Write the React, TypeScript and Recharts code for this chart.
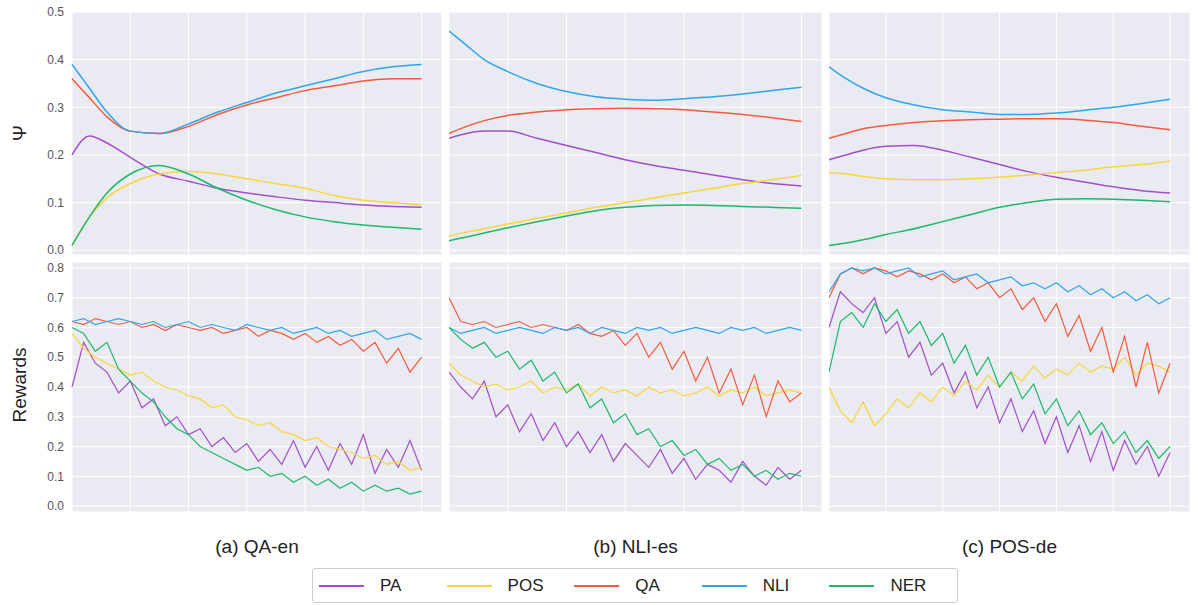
import { LineChart, Line, XAxis, YAxis, CartesianGrid } from 'recharts';

const COLORS: Record<string, string> = {
  PA: '#A24FC9',
  POS: '#F7D63C',
  QA: '#F55A3C',
  NLI: '#2FA6EA',
  NER: '#1DB86B',
};
const SERIES = ['PA', 'POS', 'QA', 'NLI', 'NER'];
const X_TICKS = [0, 1, 2, 3, 4, 5, 6];
const TOP_TICKS = [0, 0.1, 0.2, 0.3, 0.4, 0.5];
const BOTTOM_TICKS = [0, 0.1, 0.2, 0.3, 0.4, 0.5, 0.6, 0.7, 0.8];
const PANEL_LABELS = ['(a) QA-en', '(b) NLI-es', '(c) POS-de'];

const topX = [0, 0.3, 0.6, 1, 1.5, 2, 2.5, 3, 3.5, 4, 4.5, 5, 5.5, 6];

const topA = {
  PA: [0.2, 0.24, 0.225, 0.195, 0.16, 0.145, 0.13, 0.12, 0.112, 0.105, 0.1, 0.095, 0.092, 0.09],
  POS: [0.01, 0.07, 0.11, 0.14, 0.16, 0.165, 0.16, 0.15, 0.14, 0.13, 0.115, 0.105, 0.1, 0.095],
  QA: [0.36, 0.32, 0.28, 0.25, 0.245, 0.26, 0.285, 0.305, 0.32, 0.335, 0.345, 0.355, 0.36, 0.36],
  NLI: [0.39, 0.34, 0.29, 0.25, 0.245, 0.265, 0.29, 0.31, 0.33, 0.345, 0.36, 0.375, 0.385, 0.39],
  NER: [0.01, 0.07, 0.12, 0.16, 0.178, 0.16, 0.13, 0.105, 0.085, 0.07, 0.06, 0.053, 0.048, 0.044],
};
const topB = {
  PA: [0.235, 0.245, 0.25, 0.25, 0.235, 0.22, 0.205, 0.19, 0.178, 0.168, 0.158, 0.148, 0.14, 0.135],
  POS: [0.03, 0.038, 0.045, 0.055, 0.067, 0.078, 0.09, 0.1, 0.11, 0.12, 0.13, 0.14, 0.148, 0.157],
  QA: [0.245, 0.26, 0.272, 0.283, 0.29, 0.295, 0.297, 0.298, 0.297, 0.295, 0.29, 0.285, 0.278, 0.27],
  NLI: [0.46, 0.43, 0.4, 0.375, 0.35, 0.333, 0.322, 0.317, 0.315, 0.318, 0.322, 0.328, 0.335, 0.342],
  NER: [0.02, 0.028, 0.036, 0.047, 0.06, 0.072, 0.083, 0.09, 0.094, 0.095, 0.094, 0.092, 0.09, 0.088],
};
const topC = {
  PA: [0.19, 0.2, 0.21, 0.218, 0.22, 0.21, 0.195, 0.18, 0.165, 0.153, 0.143, 0.133, 0.125, 0.12],
  POS: [0.163, 0.16, 0.155, 0.15, 0.148, 0.148, 0.15, 0.153, 0.158, 0.163, 0.168, 0.175, 0.18, 0.187],
  QA: [0.235, 0.245, 0.255, 0.262, 0.268, 0.272, 0.274, 0.275, 0.276, 0.276, 0.273, 0.268, 0.26, 0.253],
  NLI: [0.385, 0.36, 0.34, 0.32, 0.305, 0.295, 0.29, 0.285, 0.285, 0.288, 0.294, 0.3, 0.308, 0.317],
  NER: [0.01, 0.015, 0.022, 0.033, 0.045, 0.06, 0.075, 0.09, 0.1, 0.107, 0.108, 0.107, 0.105, 0.102],
};

const bottomX = [0, 0.2, 0.4, 0.6, 0.8, 1, 1.2, 1.4, 1.6, 1.8, 2, 2.2, 2.4, 2.6, 2.8, 3, 3.2, 3.4, 3.6, 3.8, 4, 4.2, 4.4, 4.6, 4.8, 5, 5.2, 5.4, 5.6, 5.8, 6];

const bottomA = {
  PA: [0.4, 0.55, 0.48, 0.45, 0.38, 0.42, 0.33, 0.36, 0.27, 0.3, 0.24, 0.26, 0.2, 0.23, 0.18, 0.21, 0.15, 0.19, 0.14, 0.22, 0.13, 0.2, 0.12, 0.21, 0.14, 0.24, 0.11, 0.19, 0.13, 0.22, 0.12],
  POS: [0.58, 0.53, 0.5, 0.48, 0.46, 0.44, 0.45, 0.42, 0.4, 0.39, 0.37, 0.36, 0.33, 0.34, 0.3, 0.29, 0.27, 0.28, 0.25, 0.24, 0.22, 0.23, 0.2, 0.19, 0.18, 0.16, 0.17, 0.14, 0.15, 0.12, 0.13],
  QA: [0.62, 0.61, 0.63, 0.62, 0.61, 0.62, 0.6, 0.61, 0.59, 0.61, 0.6, 0.59, 0.6, 0.58, 0.59, 0.6, 0.57, 0.59, 0.58, 0.56, 0.58, 0.55, 0.57, 0.54, 0.56, 0.52, 0.55, 0.48, 0.53, 0.45, 0.5],
  NLI: [0.62, 0.63, 0.61, 0.62, 0.63, 0.62, 0.61, 0.62, 0.6, 0.61, 0.62, 0.6, 0.61, 0.6, 0.59, 0.61, 0.6, 0.59, 0.6, 0.58, 0.59, 0.6, 0.58, 0.59, 0.57, 0.58, 0.59, 0.56, 0.57, 0.58, 0.56],
  NER: [0.6, 0.58, 0.52, 0.55, 0.46, 0.42, 0.38, 0.35, 0.3, 0.26, 0.24, 0.2, 0.18, 0.16, 0.14, 0.12, 0.13, 0.1, 0.11, 0.08, 0.1, 0.07, 0.09, 0.06, 0.08, 0.05, 0.07, 0.05, 0.06, 0.04, 0.05],
};
const bottomB = {
  PA: [0.45, 0.4, 0.36, 0.42, 0.3, 0.34, 0.25, 0.31, 0.22, 0.28, 0.2, 0.25, 0.18, 0.24, 0.15, 0.21, 0.17, 0.13, 0.19, 0.11, 0.16, 0.09, 0.14, 0.12, 0.08, 0.15, 0.1, 0.07, 0.13, 0.09, 0.12],
  POS: [0.48, 0.44, 0.42, 0.4, 0.41, 0.39, 0.4, 0.42, 0.38, 0.4, 0.39, 0.41, 0.37, 0.4, 0.38, 0.39, 0.37, 0.4, 0.38, 0.39, 0.37, 0.38, 0.4, 0.37, 0.39, 0.38, 0.4, 0.37, 0.38, 0.39, 0.38],
  QA: [0.7, 0.62, 0.61, 0.62, 0.6, 0.61, 0.62, 0.6, 0.61, 0.6, 0.59, 0.61, 0.58, 0.57, 0.59, 0.54, 0.58, 0.5, 0.55, 0.46, 0.52, 0.42, 0.5, 0.38, 0.46, 0.34, 0.44, 0.3, 0.42, 0.35, 0.38],
  NLI: [0.6, 0.58, 0.59, 0.6, 0.58, 0.59, 0.6, 0.59, 0.58, 0.6, 0.59, 0.6, 0.58, 0.6, 0.59, 0.58, 0.6, 0.59, 0.6, 0.58, 0.59, 0.6, 0.59, 0.58, 0.6, 0.59, 0.6, 0.58, 0.59, 0.6, 0.59],
  NER: [0.6, 0.56, 0.53, 0.55, 0.5, 0.52, 0.46, 0.49, 0.42, 0.45, 0.38, 0.41, 0.33, 0.36, 0.28, 0.31, 0.24, 0.26, 0.2, 0.22, 0.17, 0.19, 0.14, 0.16, 0.12, 0.14, 0.1, 0.12, 0.09, 0.11, 0.1],
};
const bottomC = {
  PA: [0.6, 0.72, 0.68, 0.65, 0.7, 0.58, 0.62, 0.5, 0.55, 0.44, 0.48, 0.38, 0.45, 0.33, 0.4, 0.28, 0.36, 0.25, 0.32, 0.21, 0.3, 0.18, 0.27, 0.15, 0.25, 0.12, 0.22, 0.14, 0.2, 0.1, 0.18],
  POS: [0.4, 0.32, 0.28, 0.35, 0.27, 0.31, 0.36, 0.33, 0.38, 0.35, 0.4, 0.37, 0.42, 0.39, 0.44, 0.4, 0.45, 0.42, 0.47, 0.43, 0.46, 0.44, 0.48, 0.45, 0.47, 0.46, 0.5, 0.44, 0.48, 0.47, 0.45],
  QA: [0.7, 0.78, 0.8, 0.78, 0.8, 0.79, 0.77, 0.79, 0.78, 0.76, 0.78, 0.75, 0.77, 0.73, 0.75, 0.7, 0.73, 0.66, 0.7, 0.62, 0.68, 0.57, 0.64, 0.52, 0.6, 0.45, 0.57, 0.4, 0.55, 0.38, 0.48],
  NLI: [0.72, 0.78, 0.8, 0.79, 0.8, 0.78, 0.79, 0.8, 0.77, 0.78, 0.79, 0.76, 0.77, 0.78, 0.75, 0.76, 0.77, 0.74, 0.75, 0.73, 0.75, 0.72, 0.74, 0.71, 0.73, 0.7, 0.72, 0.69, 0.71, 0.68, 0.7],
  NER: [0.45, 0.62, 0.65, 0.6, 0.68, 0.62, 0.66, 0.58, 0.62, 0.54, 0.58, 0.48, 0.54, 0.44, 0.5, 0.4, 0.45, 0.36, 0.41, 0.31, 0.36, 0.27, 0.32, 0.24, 0.28, 0.21, 0.25, 0.18, 0.22, 0.16, 0.2],
};

const FONT = '"Liberation Sans", Arial, sans-serif';
const PAD = 8;

function toRows(xs: number[], s: Record<string, number[]>) {
  return xs.map((x, i) => {
    const row: Record<string, number> = { x };
    SERIES.forEach((k) => (row[k] = s[k][i]));
    return row;
  });
}

interface PanelProps {
  xs: number[];
  series: Record<string, number[]>;
  left: number;
  top: number;
  width: number;
  height: number;
  showAxis: boolean;
  ticks: number[];
  domain: [number, number];
  smooth: boolean;
}

function Panel({ xs, series, left, top, width, height, showAxis, ticks, domain, smooth }: PanelProps) {
  const axisW = showAxis ? 62 : 0;
  return (
    <div style={{ position: 'absolute', left: left - axisW, top: top - PAD }}>
      <LineChart width={width + axisW} height={height + PAD * 2} data={toRows(xs, series)} margin={{ top: PAD, right: 0, bottom: PAD, left: 0 }}>
        <CartesianGrid fill="#EAEAF2" stroke="#ffffff" strokeWidth={1} />
        <XAxis dataKey="x" type="number" domain={[0, 6.35]} ticks={X_TICKS} hide height={0} />
        <YAxis
          type="number"
          domain={domain}
          ticks={ticks}
          interval={0}
          width={axisW}
          hide={!showAxis}
          axisLine={false}
          tickLine={false}
          tickFormatter={(v: number) => v.toFixed(1)}
          tick={{ fill: '#555', fontSize: 12, fontFamily: FONT }}
        />
        {SERIES.map((k) => (
          <Line
            key={k}
            dataKey={k}
            type={smooth ? 'monotone' : 'linear'}
            stroke={COLORS[k]}
            strokeWidth={smooth ? 1.5 : 1.2}
            dot={false}
            isAnimationActive={false}
          />
        ))}
      </LineChart>
    </div>
  );
}

const COLS = [
  { left: 72, width: 370 },
  { left: 449, width: 373 },
  { left: 829, width: 361 },
];
const TOPS = [topA, topB, topC];
const BOTTOMS = [bottomA, bottomB, bottomC];

export default function App() {
  return (
    <div style={{ position: 'absolute', left: 0, top: 0, width: 1198, height: 605, background: '#fff', fontFamily: FONT }}>
      {COLS.map((c, i) => (
        <Panel key={'t' + i} xs={topX} series={TOPS[i]} left={c.left} top={12} width={c.width} height={243}
          showAxis={i === 0} ticks={TOP_TICKS} domain={[-0.01, 0.5]} smooth />
      ))}
      {COLS.map((c, i) => (
        <Panel key={'b' + i} xs={bottomX} series={BOTTOMS[i]} left={c.left} top={262} width={c.width} height={250}
          showAxis={i === 0} ticks={BOTTOM_TICKS} domain={[-0.02, 0.82]} smooth={false} />
      ))}
      <div style={{ position: 'absolute', left: 20, top: 133, transform: 'translate(-50%,-50%) rotate(-90deg)', fontSize: 19, color: '#222' }}>Ψ</div>
      <div style={{ position: 'absolute', left: 20, top: 385, transform: 'translate(-50%,-50%) rotate(-90deg)', fontSize: 19, color: '#222' }}>Rewards</div>
      {COLS.map((c, i) => (
        <div key={'l' + i} style={{ position: 'absolute', left: c.left, width: c.width, top: 536, textAlign: 'center', fontSize: 19, color: '#222' }}>
          {PANEL_LABELS[i]}
        </div>
      ))}
      <div style={{ position: 'absolute', left: 312, top: 568, width: 646, height: 35, boxSizing: 'border-box', border: '1px solid #ccc', borderRadius: 3, display: 'flex', alignItems: 'center', paddingLeft: 6, fontSize: 17, color: '#222' }}>
        {SERIES.map((k) => (
          <div key={k} style={{ display: 'flex', alignItems: 'center', width: 130 }}>
            <span style={{ display: 'inline-block', width: 45, height: 2, background: COLORS[k], marginRight: 16 }} />
            <span>{k}</span>
          </div>
        ))}
      </div>
    </div>
  );
}
